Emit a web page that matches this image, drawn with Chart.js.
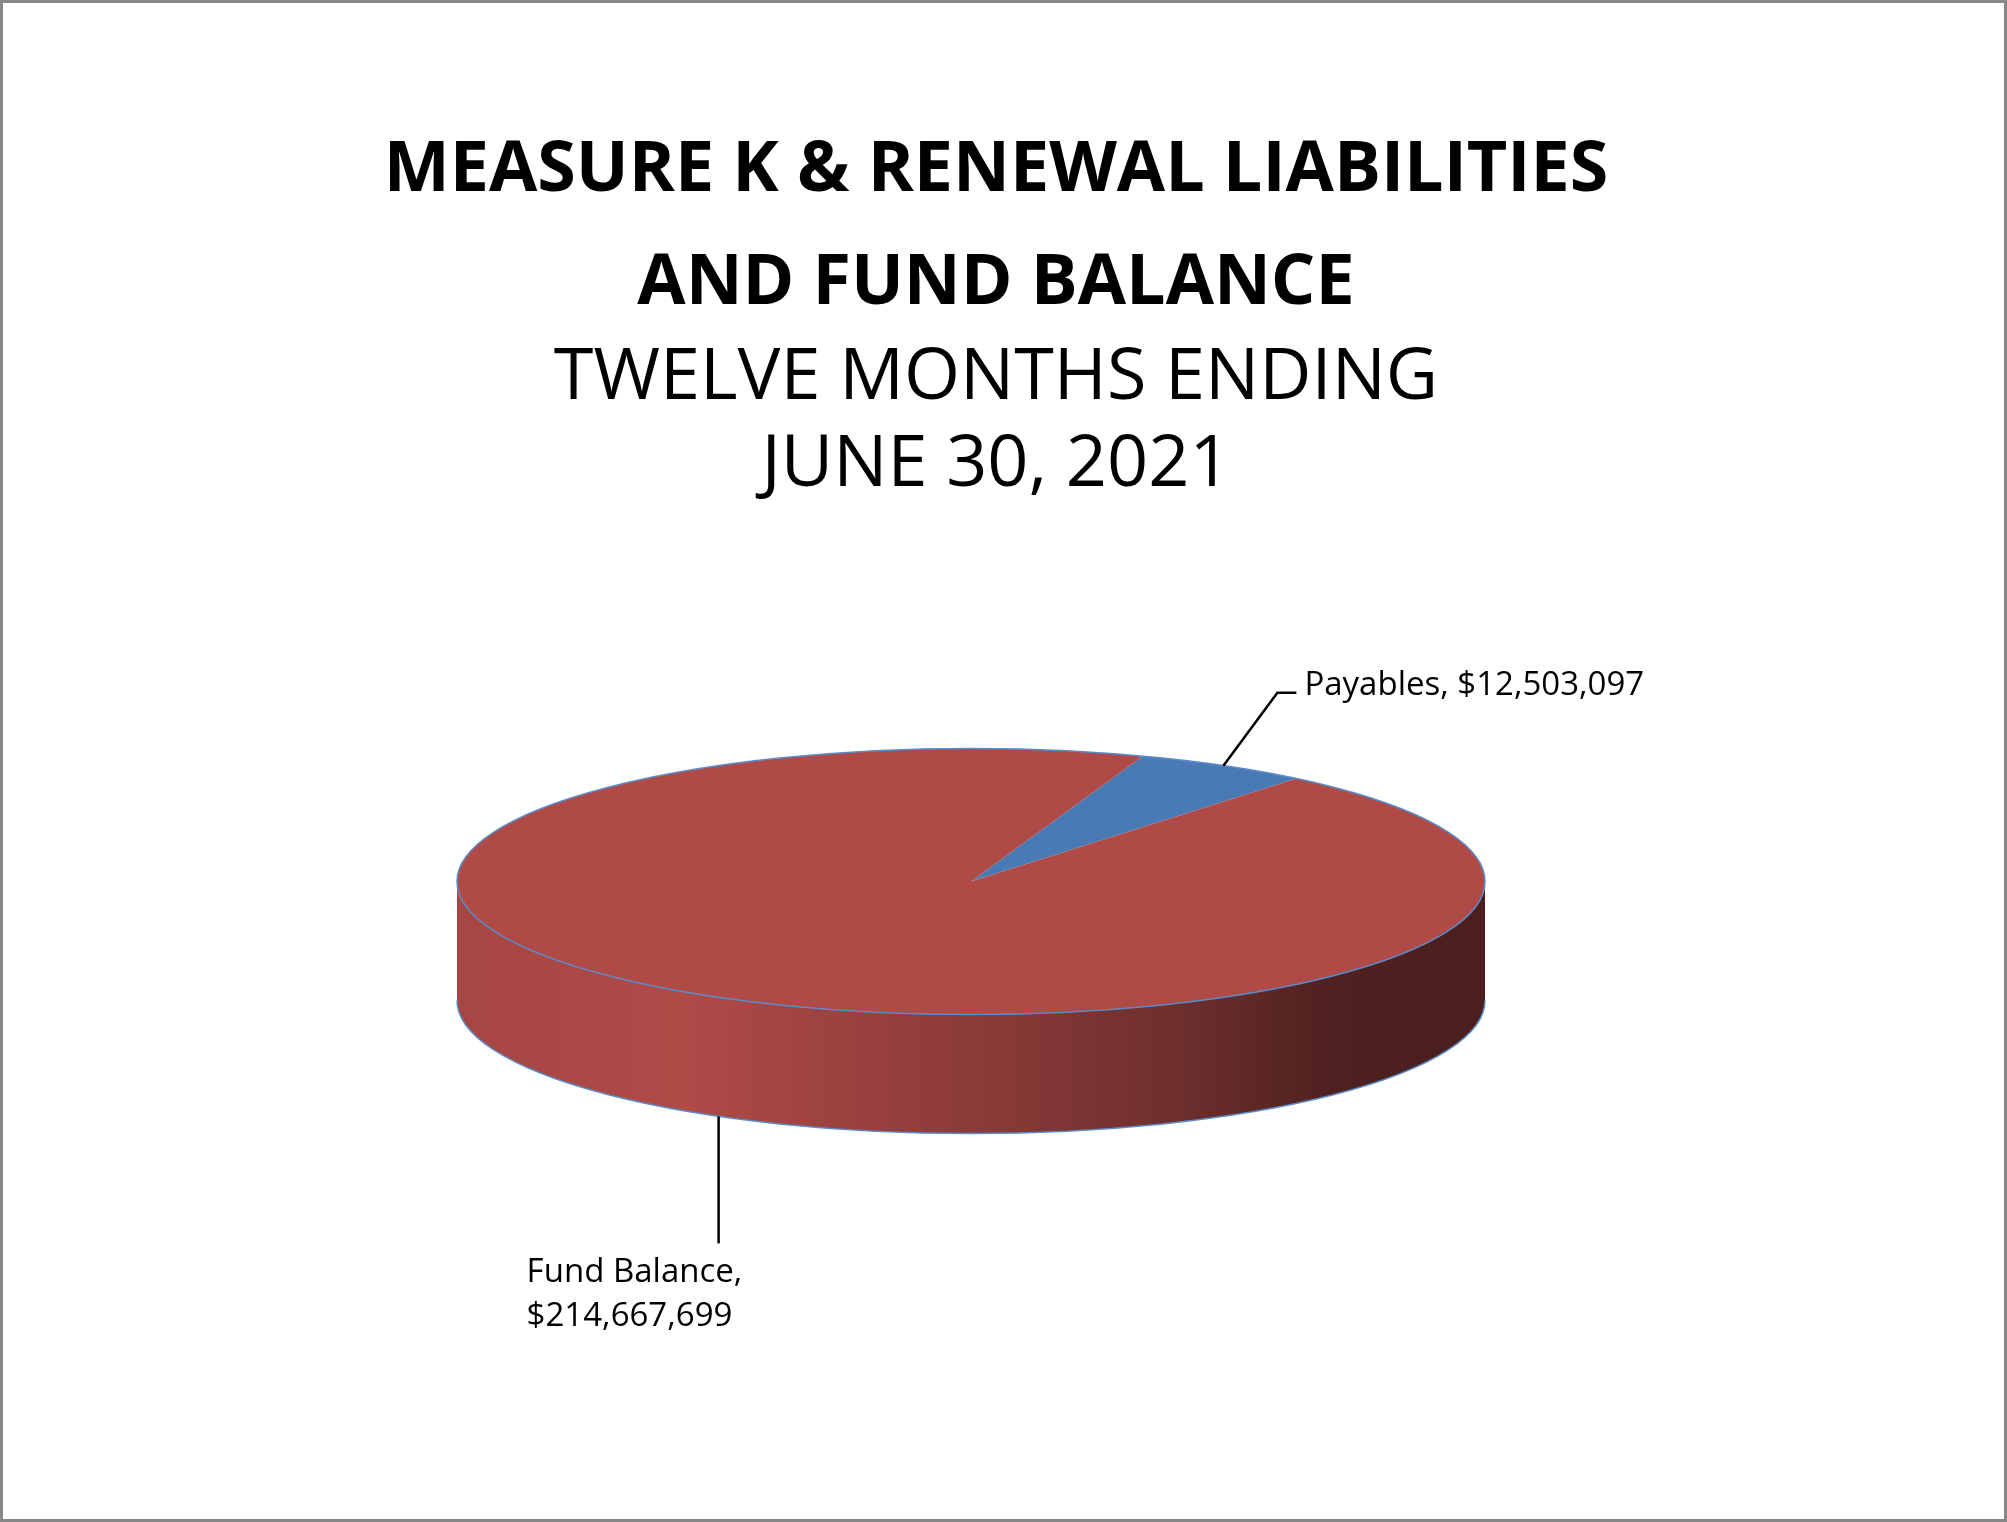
<!DOCTYPE html>
<html>
<head>
<meta charset="utf-8">
<script src="https://cdn.jsdelivr.net/npm/chart.js@4.4.1/dist/chart.umd.min.js"></script>
<style>
  html, body { margin: 0; padding: 0; background: #ffffff; }
  #wrap { width: 2007px; height: 1522px; box-sizing: border-box; border: 3px solid #878787; position: relative; }
  canvas { display: block; }
</style>
</head>
<body>
<div id="wrap"><canvas id="pieChart"></canvas></div>
<script>
// Chart data
const categories = ['Payables', 'Fund Balance'];
const amounts = [12503097, 214667699];
const titleLines = ['MEASURE K & RENEWAL LIABILITIES', 'AND FUND BALANCE'];
const subtitleLines = ['TWELVE MONTHS ENDING', 'JUNE 30, 2021'];
const sliceColors = ['#4A7AB4', '#AF4A47'];

const FONT = "'Open Sans', sans-serif";

// tilted pie look: ellipse half axes, wall depth and a small left nudge (px)
const RX = 514, RY = 133, DEPTH = 119, SHIFT_X = -25;
const EDGE = '#5B8BC9';

function shade(hex, f) {
  const n = parseInt(hex.slice(1), 16);
  const r = Math.round(((n >> 16) & 255) * f);
  const g = Math.round(((n >> 8) & 255) * f);
  const b = Math.round((n & 255) * f);
  return 'rgb(' + r + ',' + g + ',' + b + ')';
}

function money(v) {
  return '$' + v.toLocaleString('en-US');
}

// side wall of the pie + squash the arcs into an ellipse
const tiltPlugin = {
  id: 'tilt',
  beforeDatasetsDraw(chart) {
    const ctx = chart.ctx;
    const arcs = chart.getDatasetMeta(0).data;
    const x0 = arcs[0].x, cy = arcs[0].y, r = arcs[0].outerRadius;
    const cx = x0 + SHIFT_X;

    arcs.forEach((el, i) => {
      const base = sliceColors[i];
      [-2 * Math.PI, 0, 2 * Math.PI].forEach(k => {
        const a0 = Math.max(el.startAngle + k, 0);
        const a1 = Math.min(el.endAngle + k, Math.PI);
        if (a1 <= a0) return;
        const grad = ctx.createLinearGradient(cx - RX, 0, cx + RX, 0);
        grad.addColorStop(0, shade(base, 0.95));
        grad.addColorStop(0.22, shade(base, 1.0));
        grad.addColorStop(0.5, shade(base, 0.8));
        grad.addColorStop(0.7, shade(base, 0.63));
        grad.addColorStop(0.85, shade(base, 0.45));
        grad.addColorStop(1, shade(base, 0.42));
        ctx.save();
        ctx.beginPath();
        ctx.ellipse(cx, cy, RX, RY, 0, a0, a1, false);
        ctx.ellipse(cx, cy + DEPTH, RX, RY, 0, a1, a0, true);
        ctx.closePath();
        ctx.fillStyle = grad;
        ctx.fill();
        ctx.restore();
      });
    });

    ctx.save();
    ctx.beginPath();
    ctx.ellipse(cx, cy + DEPTH, RX, RY, 0, 0, Math.PI, false);
    ctx.strokeStyle = EDGE;
    ctx.lineWidth = 1.5;
    ctx.stroke();
    ctx.restore();

    ctx.save();
    ctx.translate(cx, cy);
    ctx.scale(RX / r, RY / r);
    ctx.translate(-x0, -cy);
  },
  afterDatasetsDraw(chart) {
    const ctx = chart.ctx;
    ctx.restore();
    const arcs = chart.getDatasetMeta(0).data;
    const cx = arcs[0].x + SHIFT_X, cy = arcs[0].y;

    // rim of the top face
    ctx.save();
    ctx.beginPath();
    ctx.ellipse(cx, cy, RX, RY, 0, 0, 2 * Math.PI);
    ctx.strokeStyle = EDGE;
    ctx.lineWidth = 1.5;
    ctx.stroke();
    ctx.restore();

    // data labels with leader lines
    ctx.save();
    ctx.strokeStyle = '#000000';
    ctx.fillStyle = '#000000';
    ctx.lineWidth = 2.5;
    ctx.font = '33px ' + FONT;
    ctx.textAlign = 'left';
    ctx.textBaseline = 'alphabetic';
    arcs.forEach((el, i) => {
      const mid = (el.startAngle + el.endAngle) / 2;
      const front = Math.sin(mid) > 0;
      const ax = cx + RX * Math.cos(mid);
      const ay = cy + RY * Math.sin(mid) + (front ? DEPTH : 0);
      if (!front) {
        const ex = ax + 54, ey = ay - 73;
        ctx.beginPath();
        ctx.moveTo(ax, ay);
        ctx.lineTo(ex, ey);
        ctx.lineTo(ex + 19, ey);
        ctx.stroke();
        ctx.fillText(categories[i] + ', ' + money(amounts[i]), ex + 27, ey + 2);
      } else {
        const ey = ay + 127;
        ctx.beginPath();
        ctx.moveTo(ax, ay);
        ctx.lineTo(ax, ey);
        ctx.stroke();
        ctx.fillText(categories[i] + ',', ax - 192, ey + 39);
        ctx.fillText(money(amounts[i]), ax - 192, ey + 83);
      }
    });
    ctx.restore();
  }
};

const pieCtx = document.getElementById('pieChart');

new Chart(pieCtx, {
  type: 'pie',
  data: {
    labels: categories,
    datasets: [{
      data: amounts,
      backgroundColor: sliceColors,
      borderWidth: 0
    }]
  },
  options: {
    responsive: true,
    maintainAspectRatio: false,
    animation: false,
    events: [],
    rotation: 19.5,
    layout: {
      padding: { left: 300, right: 315, top: 0, bottom: 275 }
    },
    plugins: {
      legend: { display: false },
      tooltip: { enabled: false },
      title: {
        display: true,
        text: titleLines,
        color: '#000000',
        font: { family: FONT, size: 70, weight: 'bold', lineHeight: 1.62 },
        padding: { top: 111, bottom: 0 }
      },
      subtitle: {
        display: true,
        text: subtitleLines,
        color: '#000000',
        font: { family: FONT, size: 72, weight: 'normal', lineHeight: 1.21 },
        padding: { top: -6, bottom: 10 }
      }
    }
  },
  plugins: [tiltPlugin]
});
</script>
</body>
</html>
